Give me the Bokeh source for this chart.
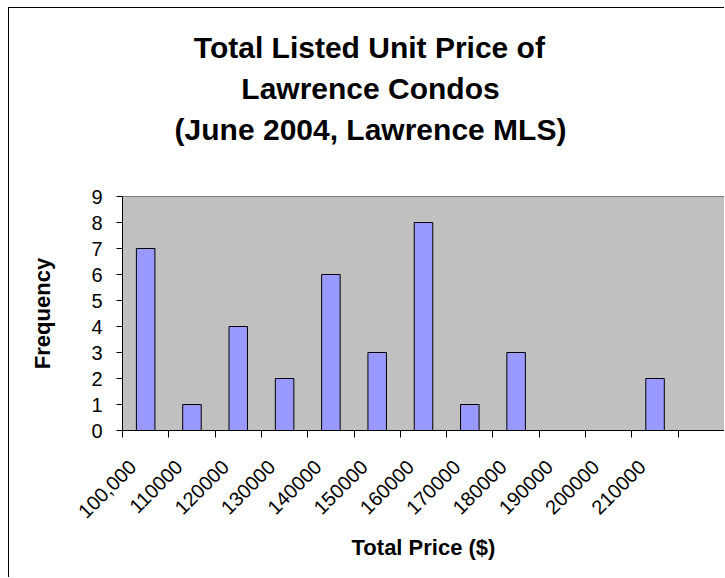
import math
from bokeh.plotting import figure
from bokeh.models import Range1d, FixedTicker, Title
from bokeh.embed import file_html
from bokeh.resources import INLINE

# ---- data ----
price_bins = ["100,000", "110000", "120000", "130000", "140000", "150000",
              "160000", "170000", "180000", "190000", "200000", "210000", ""]
frequency = [7, 1, 4, 2, 6, 3, 8, 1, 3, 0, 0, 2, 0]
y_ticks = [0, 1, 2, 3, 4, 5, 6, 7, 8, 9]
title_lines = ["Total Listed Unit Price of", "Lawrence Condos", "(June 2004, Lawrence MLS)"]
x_title = "Total Price ($)"
y_title = "Frequency"

FONT = "Liberation Sans"
W, H = 716, 570
FRAME_LEFT = 113          # canvas px
TITLE_CENTER = 370 - 9    # canvas px (chart-area centre)
TITLE_SIZE = 30
LABEL_SHIFT = -0.28       # rotated tick labels end slightly left of the category centre
n = len(price_bins)
centers = [i + 0.5 for i in range(n)]
bounds = list(range(n + 1))
label_ticks = [c + LABEL_SHIFT for c in centers]

# Arial/Liberation Sans Bold advance widths (1/1000 em) for centring the title lines
BOLD_W = {" ": 278, "(": 333, ")": 333, ",": 278, "J": 556, "L": 611, "M": 833,
          "S": 667, "T": 611, "P": 667, "U": 722, "C": 722, "a": 556, "c": 556,
          "d": 611, "e": 556, "f": 333, "i": 278, "l": 278, "n": 611, "o": 611,
          "r": 389, "s": 556, "t": 333, "u": 611, "w": 778}


def text_width(s, size):
    return sum(BOLD_W.get(ch, 556) for ch in s) / 1000.0 * size


p = figure(width=W, height=H, output_backend="svg", toolbar_location=None,
           x_range=Range1d(0, n), y_range=Range1d(0, 9),
           min_border_left=FRAME_LEFT, min_border_right=1,
           min_border_top=188, min_border_bottom=148)
p.styles = {"margin-left": "8px", "margin-top": "7px",
            "border-left": "1px solid black", "border-top": "1px solid black"}
p.background_fill_color = "#C0C0C0"
p.border_fill_color = "white"
p.outline_line_color = "#808080"
p.outline_line_width = 1
p.xgrid.visible = False
p.ygrid.visible = False

p.vbar(x=centers, top=frequency, width=0.4, bottom=0,
       fill_color="#9999FF", line_color="black", line_width=1)

# x axis
xa = p.xaxis[0]
xa.ticker = FixedTicker(ticks=label_ticks, minor_ticks=bounds)
xa.major_label_overrides = {t: lab for t, lab in zip(label_ticks, price_bins)}
xa.major_label_orientation = math.pi / 4
xa.major_tick_out = 0
xa.major_tick_in = 0
xa.minor_tick_out = 7
xa.minor_tick_in = 0
xa.minor_tick_line_color = "black"
xa.axis_line_color = "black"
xa.major_label_text_font = FONT
xa.major_label_text_font_size = "20px"
xa.major_label_text_color = "black"
xa.major_label_standoff = 26
xa.axis_label = x_title
xa.axis_label_text_font = FONT
xa.axis_label_text_font_size = "22px"
xa.axis_label_text_font_style = "bold"
xa.axis_label_text_color = "black"
xa.axis_label_standoff = 7

# y axis
ya = p.yaxis[0]
ya.ticker = FixedTicker(ticks=y_ticks)
ya.major_tick_out = 6
ya.major_tick_in = 0
ya.minor_tick_out = 0
ya.minor_tick_in = 0
ya.axis_line_color = "black"
ya.major_tick_line_color = "black"
ya.major_label_text_font = FONT
ya.major_label_text_font_size = "20px"
ya.major_label_text_color = "black"
ya.major_label_standoff = 14
ya.axis_label = y_title
ya.axis_label_text_font = FONT
ya.axis_label_text_font_size = "22px"
ya.axis_label_text_font_style = "bold"
ya.axis_label_text_color = "black"
ya.axis_label_standoff = 33

# chart title: three lines, innermost added first
for i, line in enumerate(reversed(title_lines)):
    off = TITLE_CENTER - text_width(line, TITLE_SIZE) / 2 - FRAME_LEFT
    pad_bottom = 48 if i == 0 else 0
    p.add_layout(Title(text=line, align="left", offset=off, standoff=6,
                       padding=dict(left=0, right=0, top=0, bottom=pad_bottom),
                       text_font=FONT, text_font_size=f"{TITLE_SIZE}px",
                       text_font_style="bold", text_color="black"), "above")

open("out.html", "w").write(file_html(p, INLINE))
